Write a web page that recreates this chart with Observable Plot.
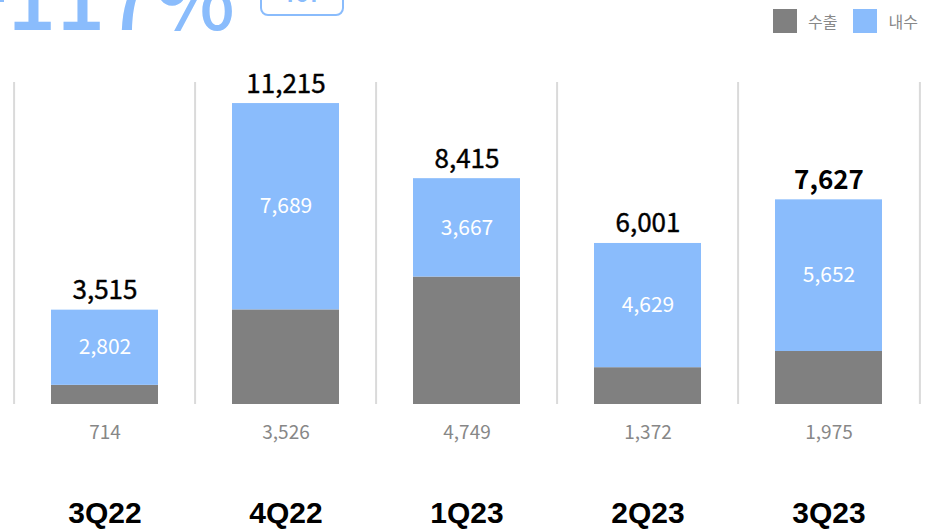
<!DOCTYPE html>
<html>
<head>
<meta charset="utf-8">
<script src="https://cdn.jsdelivr.net/npm/d3@7"></script>
<script src="https://cdn.jsdelivr.net/npm/@observablehq/plot@0.6"></script>
<style>
  html, body { margin: 0; padding: 0; background: #fff; overflow: hidden; }
  #wrap { position: relative; width: 928px; height: 529px; overflow: hidden; font-family: 'Noto Sans CJK KR', 'Noto Sans', sans-serif; }
  #chart { position: absolute; left: 0; top: 0; }
  #headline { position: absolute; right: 693px; top: -50px; font-size: 86px; line-height: 1; color: #8abcfc; font-weight: 500; white-space: nowrap; letter-spacing: 0px; font-family: 'Noto Sans CJK KR', sans-serif; }
  #yoy { position: absolute; left: 260px; top: -21px; width: 84px; height: 37px; border: 2px solid #8abcfc; border-radius: 8px; color: #8abcfc; font-size: 22px; font-weight: 700; text-align: center; line-height: 22px; box-sizing: border-box; }
  #legend { position: absolute; left: 773px; top: 9px; display: flex; align-items: center; font-size: 16px; color: #888; white-space: nowrap; }
  #legend .sw { width: 24px; height: 24px; display: inline-block; flex: none; }
  #legend .lb { margin-left: 11px; margin-right: 16px; line-height: 24px; white-space: nowrap; flex: none; }
</style>
</head>
<body>
<div id="wrap">
  <div id="chart"></div>
  <div id="headline">+117%</div>
  <div id="yoy">YoY</div>
  <div id="legend"></div>
</div>
<script>
const quarters = ["3Q22", "4Q22", "1Q23", "2Q23", "3Q23"];
const exportVals = [714, 3526, 4749, 1372, 1975];      // 수출
const domesticVals = [2802, 7689, 3667, 4629, 5652];   // 내수
const totals = [3515, 11215, 8415, 6001, 7627];
const seriesNames = ["수출", "내수"];
const seriesColors = ["#808080", "#8abcfc"];
const latest = quarters[quarters.length - 1];

const fmt = d3.format(",");
const rows = quarters.map((q, i) => ({q, exp: exportVals[i], dom: domesticVals[i], total: totals[i]}));
const stacked = [];
rows.forEach(r => {
  stacked.push({q: r.q, series: seriesNames[0], value: r.exp});
  stacked.push({q: r.q, series: seriesNames[1], value: r.dom});
});

const W = 928, H = 529, mL = 12, mR = 7, mT = 82, mB = 125;
const step = (W - mL - mR) / quarters.length;

const chart = Plot.plot({
  width: W, height: H,
  marginLeft: mL, marginRight: mR, marginTop: mT, marginBottom: mB,
  style: {fontFamily: "'Noto Sans CJK KR', 'Noto Sans', sans-serif", background: "transparent"},
  x: {domain: quarters, paddingInner: 0.407, paddingOuter: 0.2035, axis: null},
  y: {domain: [0, 12000], axis: null},
  color: {domain: seriesNames, range: seriesColors},
  marks: [
    Plot.ruleX(quarters, {x: d => d, y1: 0, y2: 12000, dx: -step / 2, stroke: "#dadada", strokeWidth: 2}),
    Plot.ruleX([latest], {x: d => d, y1: 0, y2: 12000, dx: step / 2, stroke: "#dadada", strokeWidth: 2}),
    Plot.barY(stacked, {x: "q", y: "value", fill: "series", order: seriesNames}),
    Plot.text(rows.filter(d => d.q !== latest), {x: "q", y: "total", text: d => fmt(d.total), lineAnchor: "bottom", dy: -11,
      fontSize: 26, fontWeight: 400, fill: "#000", stroke: "#000", strokeWidth: 0.4}),
    Plot.text(rows.filter(d => d.q === latest), {x: "q", y: "total", text: d => fmt(d.total), lineAnchor: "bottom", dy: -11,
      fontSize: 26, fontWeight: 700, fill: "#000"}),
    Plot.text(rows, {x: "q", y: d => d.exp + d.dom / 2, text: d => fmt(d.dom), lineAnchor: "middle",
      fontSize: 21, fill: "#fff"}),
    Plot.text(rows, {x: "q", y: () => 0, text: d => fmt(d.exp), lineAnchor: "middle", dy: 28,
      fontSize: 19, fill: "#878787"}),
    Plot.text(rows, {x: "q", frameAnchor: "bottom", text: "q", lineAnchor: "middle", dy: 109,
      fontSize: 30, fontWeight: 700, fill: "#000", fontFamily: "'Liberation Sans', sans-serif", letterSpacing: "-1.5px"})
  ]
});
document.getElementById("chart").appendChild(chart);

const legend = document.getElementById("legend");
seriesNames.forEach((name, i) => {
  const sw = document.createElement("span");
  sw.className = "sw";
  sw.style.background = seriesColors[i];
  const lb = document.createElement("span");
  lb.className = "lb";
  lb.textContent = name;
  legend.appendChild(sw);
  legend.appendChild(lb);
});
</script>
</body>
</html>
